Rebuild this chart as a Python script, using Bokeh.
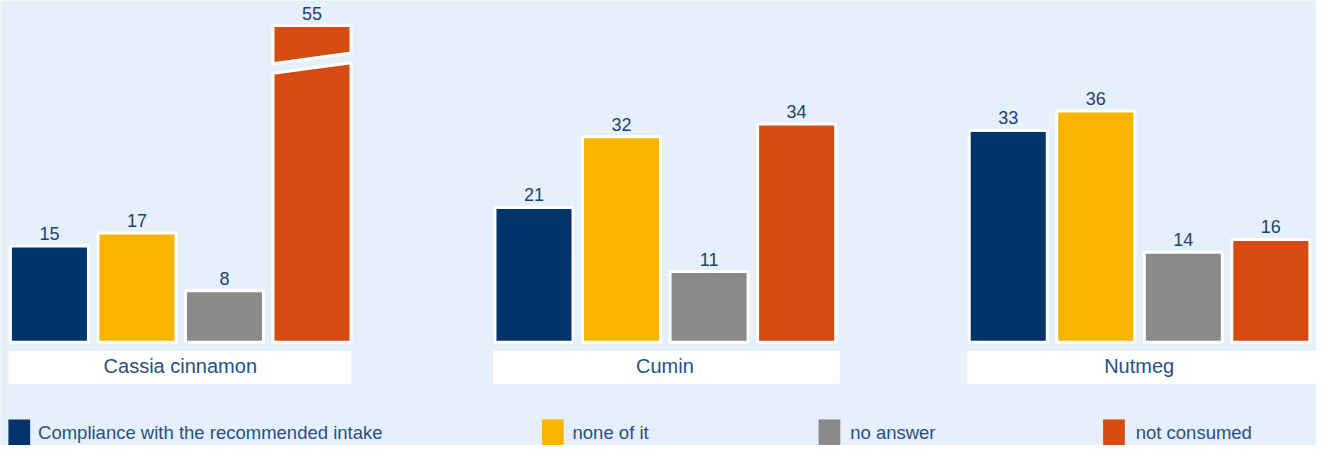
from bokeh.plotting import figure
from bokeh.models import Range1d
from bokeh.core.properties import value
from bokeh.embed import file_html
from bokeh.resources import INLINE

# ---------------- data ----------------
categories = ["Cassia cinnamon", "Cumin", "Nutmeg"]
series_names = ["Compliance with the recommended intake", "none of it", "no answer", "not consumed"]
compliance = [15, 21, 33]
none_of_it = [17, 32, 36]
no_answer = [8, 11, 14]
not_consumed = [55, 34, 16]
series_values = [compliance, none_of_it, no_answer, not_consumed]

# ---------------- style / layout ----------------
colors = ["#02356b", "#f9b400", "#8a8a8a", "#d64b12"]
BG = "#e6f0fa"
VAL_COLOR = "#1c4273"
LBL_COLOR = "#28507f"
FONT = "Liberation Sans"

W, H = 1316, 445          # canvas size
REF_W, REF_H = 1332, 461  # layout designed in these units
BASE = 354.0              # layout y of the value 0
PX = 6.65                 # layout pixels per unit


def y_of(ly):
    return (BASE - ly) / PX


group_base = [49.5, 540.0, 1020.0]   # x of the first bar centre in each group
pitch = 88.6
bar_w = 79.0
BREAK_AT = 45            # values above this are drawn as a broken bar
CAP_Y = y_of(26)         # displayed top of a broken bar
LABEL_GAP = 13.0 / PX    # label centre above bar top

p = figure(width=W, height=H, output_backend="svg", toolbar_location=None,
           x_range=Range1d(0, REF_W), y_range=Range1d(y_of(REF_H), y_of(0)),
           min_border=0, min_border_left=0, min_border_right=0,
           min_border_top=0, min_border_bottom=0)
p.axis.visible = False
p.grid.visible = False
p.outline_line_color = None
p.background_fill_color = BG
p.border_fill_color = BG

# ---------------- bars ----------------
for si, vals in enumerate(series_values):
    xs = [group_base[gi] + si * pitch for gi in range(len(vals))]
    nx = [x for x, v in zip(xs, vals) if v <= BREAK_AT]
    nt = [v for v in vals if v <= BREAK_AT]
    if nx:
        p.vbar(x=nx, top=nt, bottom=0, width=bar_w,
               fill_color=colors[si], line_color="white", line_width=3)
    lab_y = []
    for x, v in zip(xs, vals):
        if v > BREAK_AT:
            l, r = x - bar_w / 2, x + bar_w / 2
            top = CAP_Y
            p.patch([l, r, r, l], [top, top, top - 28.5 / PX, top - 39.5 / PX],
                    fill_color=colors[si], line_color="white", line_width=3)
            p.patch([l, r, r, l], [top - 49.5 / PX, top - 38.5 / PX, 0, 0],
                    fill_color=colors[si], line_color="white", line_width=3)
            lab_y.append(top + LABEL_GAP)
        else:
            lab_y.append(v + LABEL_GAP)
    p.text(x=xs, y=lab_y, text=[str(v) for v in vals], text_align="center",
           text_baseline="middle", text_font=value(FONT), text_font_size="18px",
           text_color=VAL_COLOR)

# ---------------- category boxes ----------------
box_l = [b - 41.5 for b in group_base]
box_r = [347.0 + l for l in box_l[:2]] + [REF_W]
box_r[1] = box_l[1] + 351
p.quad(left=box_l, right=box_r, top=y_of(363), bottom=y_of(397),
       fill_color="white", line_color=None)
p.text(x=[b - 41.5 + 174 for b in group_base], y=[y_of(379)] * 3, text=categories,
       text_align="center", text_baseline="middle", text_font=value(FONT),
       text_font_size="20px", text_color=LBL_COLOR)

# ---------------- legend ----------------
leg_sq_x = [8, 548, 828, 1116]
leg_tx_x = [38, 579, 860, 1149]
p.quad(left=leg_sq_x, right=[x + 22 for x in leg_sq_x], top=y_of(434), bottom=y_of(REF_H),
       fill_color=colors, line_color=None)
p.text(x=leg_tx_x, y=[y_of(448)] * 4, text=series_names, text_align="left",
       text_baseline="middle", text_font=value(FONT), text_font_size="18.5px",
       text_color=LBL_COLOR)

open("out.html", "w").write(file_html(p, INLINE))
